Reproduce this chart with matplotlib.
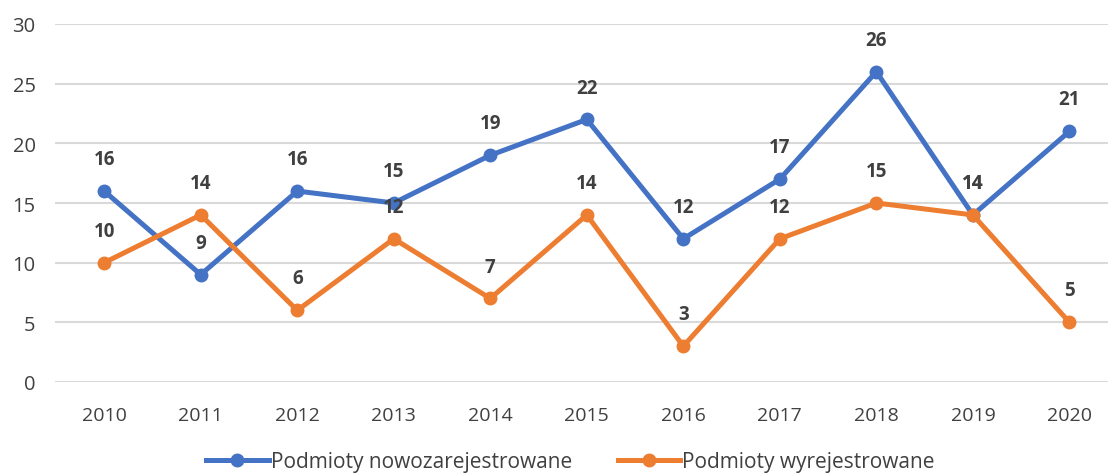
import matplotlib
matplotlib.use("Agg")
import matplotlib.pyplot as plt

years = ["2010", "2011", "2012", "2013", "2014", "2015", "2016", "2017", "2018", "2019", "2020"]
registered = [16, 9, 16, 15, 19, 22, 12, 17, 26, 14, 21]
deregistered = [10, 14, 6, 12, 7, 14, 3, 12, 15, 14, 5]
series_names = ["Podmioty nowozarejestrowane", "Podmioty wyrejestrowane"]

plt.rcParams['font.family'] = ['Open Sans', 'DejaVu Sans']

fig = plt.figure(figsize=(11.08, 4.77), dpi=100)
ax = fig.add_axes([55/1108, 94/477, 1 - 55/1108, (383-25)/477])

x = list(range(len(years)))
blue = "#4472C4"
orange = "#ED7D31"

ax.plot(x, registered, color=blue, lw=3.6, marker='o', ms=9, label=series_names[0], zorder=3)
ax.plot(x, deregistered, color=orange, lw=3.6, marker='o', ms=9, label=series_names[1], zorder=3)

for xi, v in zip(x, registered):
    ax.annotate(str(v), (xi, v), xytext=(0, 23), textcoords='offset points',
                ha='center', va='center', fontsize=13.5, fontweight='bold', color='#404040')
for xi, v in zip(x, deregistered):
    ax.annotate(str(v), (xi, v), xytext=(0, 23), textcoords='offset points',
                ha='center', va='center', fontsize=13.5, fontweight='bold', color='#404040')

ax.set_xlim(-0.51, 10.40)
ax.set_ylim(0, 30)
ax.set_yticks([0, 5, 10, 15, 20, 25, 30])
ax.set_xticks(x)
ax.set_xticklabels(years)
ax.grid(axis='y', color='#D9D9D9', lw=1.5)
ax.set_axisbelow(True)
for s in ax.spines.values():
    s.set_visible(False)
ax.tick_params(axis='both', length=0, labelsize=14, colors='#404040')
ax.tick_params(axis='y', pad=14, labelsize=14.5)
ax.tick_params(axis='x', pad=17)

fig.legend(loc='center', bbox_to_anchor=(0.515, 0.03), ncol=2, frameon=False,
           fontsize=15, handlelength=3.0, columnspacing=2.2, handletextpad=0.1,
           labelcolor='#404040', borderpad=0.1)

fig.savefig("out.png", dpi=100)
